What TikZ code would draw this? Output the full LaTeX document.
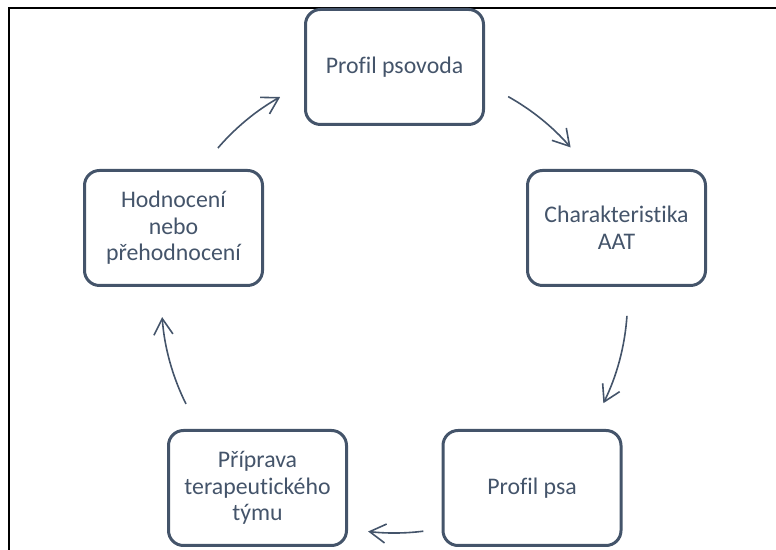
\documentclass[tikz,border=0pt]{standalone}
\usepackage{fontspec}
\setmainfont{Carlito}[Ligatures={NoCommon}]
\usepackage{tikz}
\usetikzlibrary{arrows.meta,positioning,calc}
\definecolor{slate}{HTML}{44546A}

\begin{document}
\begin{tikzpicture}[x=0.5pt, y=0.5pt,
    stage/.style={draw=slate, line width=1.5pt, rounded corners=7.5pt, minimum width=89pt,
        minimum height=57.5pt, align=center, text=slate, font=\fontsize{11.9}{13.3}\selectfont},
    cyc/.style={slate, line width=0.8pt, -{Straight Barb[length=8pt, width=9.5pt]}}]
    \useasboundingbox (0,0) rectangle (776,550);

    % Frame: only top and left edge are visible
    \draw[line width=1pt] (9,0) -- (9,542) -- (776,542);

    % Centre of the cycle
    \coordinate (c) at (394.5,250);

    % Stages
    \node[stage] (psovod) at (394.5,483) {Profil psovoda};
    \node[stage] (aat) at (616.5,322) {Charakteristika\\AAT};
    \node[stage] (pes) at (532,62) {Profil psa};
    \node[stage] (tym) at (257.5,62) {Příprava\\terapeutického\\týmu};
    \node[stage] (hodnoceni) at (173.5,322) {Hodnocení\\nebo\\přehodnocení};

    % Arrows between stages (arcs round the centre)
    \foreach \a/\b [count=\i] in {139.3/119.4, 60.8/40.9, -3.9/-26.3, -82.9/-96.5, 206.5/184.2} {
        \coordinate (s\i) at ($(c)+(\a:233)$);
        \draw[cyc] (s\i) arc[start angle=\a, end angle=\b, radius=233];
    }
\end{tikzpicture}
\end{document}
